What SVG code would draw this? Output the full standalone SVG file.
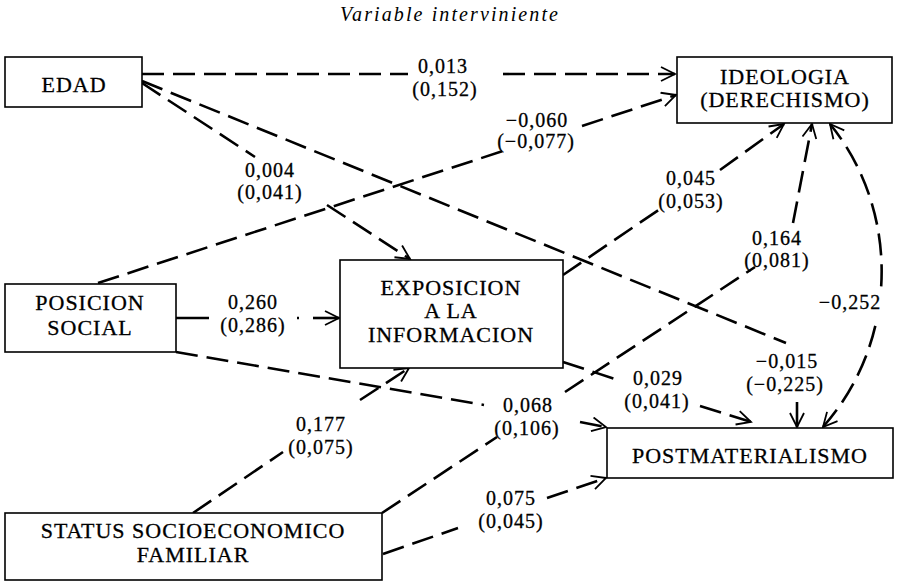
<svg xmlns="http://www.w3.org/2000/svg" width="899" height="581" viewBox="0 0 899 581">
<style>
.box{fill:#fff;stroke:#000;stroke-width:1.6}
.lbl{font-family:"Liberation Serif","Times New Roman",serif;font-size:22px;letter-spacing:1px;text-anchor:middle;fill:#000;stroke:#000;stroke-width:0.3}
.num{font-family:"Liberation Serif","Times New Roman",serif;font-size:20px;letter-spacing:1px;text-anchor:middle;fill:#000;stroke:#000;stroke-width:0.3}
.ttl{font-family:"Liberation Serif","Times New Roman",serif;font-style:italic;font-size:20px;text-anchor:middle;fill:#000}
.c{fill:none;stroke:#000;stroke-width:2.6;stroke-dasharray:22 9}
.s{fill:none;stroke:#000;stroke-width:2.6}
</style>
<defs>
<marker id="ah" markerUnits="userSpaceOnUse" markerWidth="18" markerHeight="18" refX="15" refY="8" orient="auto-start-reverse">
<path d="M1,1 L15,8 L1,15" fill="none" stroke="#000" stroke-width="1.8"/>
</marker>
</defs>
<text class="ttl" x="449" y="21" textLength="218" lengthAdjust="spacing">Variable interviniente</text>
<g id="connectors">
<!-- EDAD -> IDEOLOGIA -->
<path class="c" d="M142,74 L408,74"/>
<path class="c" d="M503,74 L675,74" marker-end="url(#ah)"/>
<!-- EDAD -> EXPOSICION -->
<path class="c" d="M142,83 L255,157"/>
<path class="c" d="M327,205 L410,259" marker-end="url(#ah)"/>
<!-- EDAD -> POSTMATERIALISMO -->
<path class="c" d="M142,81 L786,343"/>
<path class="s" d="M797,402 L797,427" marker-end="url(#ah)"/>
<!-- POSICION -> IDEOLOGIA -->
<path class="c" d="M98,283 L503,151"/>
<path class="c" d="M582,126 L676,95" marker-end="url(#ah)"/>
<!-- POSICION -> EXPOSICION -->
<path class="s" d="M176,318 L209,318"/>
<path class="s" d="M297,318 L299,318"/>
<path class="s" d="M313,318 L339,318" marker-end="url(#ah)"/>
<!-- POSICION -> POSTMATERIALISMO -->
<path class="c" d="M176,352 L484,405"/>
<path class="c" d="M580,422 L606,427" marker-end="url(#ah)"/>
<!-- EXPOSICION -> IDEOLOGIA -->
<path class="c" d="M563,275 L660,209"/>
<path class="c" d="M720,170 L784,124" marker-end="url(#ah)"/>
<!-- EXPOSICION -> POSTMATERIALISMO -->
<path class="c" d="M563,362 L615,379"/>
<path class="c" d="M700,406 L751,422" marker-end="url(#ah)"/>
<!-- STATUS -> EXPOSICION -->
<path class="c" d="M193,513 L283,452"/>
<path class="c" d="M360,400 L409,368" marker-end="url(#ah)"/>
<!-- STATUS -> IDEOLOGIA -->
<path class="c" d="M382,513 L497,437"/>
<path class="c" d="M565,392 L755,267"/>
<path class="c" d="M793,223 L812,124" marker-end="url(#ah)"/>
<!-- STATUS -> POSTMATERIALISMO -->
<path class="c" d="M383,554 L458,528"/>
<path class="c" d="M547,498 L606,478" marker-end="url(#ah)"/>
<!-- IDEOLOGIA <-> POSTMATERIALISMO -->
<path class="c" d="M823,427 C900,340 900,210 830,124" marker-start="url(#ah)" marker-end="url(#ah)"/>
</g>
<g id="edge-labels">
<rect x="818" y="288" width="66" height="34" fill="#fff"/>
<text class="num" x="443" y="73">0,013</text>
<text class="num" x="445" y="96">(0,152)</text>
<text class="num" x="537" y="127">−0,060</text>
<text class="num" x="536" y="148">(−0,077)</text>
<text class="num" x="270" y="177">0,004</text>
<text class="num" x="270" y="199">(0,041)</text>
<text class="num" x="691" y="185">0,045</text>
<text class="num" x="691" y="208">(0,053)</text>
<text class="num" x="777" y="245">0,164</text>
<text class="num" x="777" y="267">(0,081)</text>
<text class="num" x="850" y="309">−0,252</text>
<text class="num" x="787" y="368">−0,015</text>
<text class="num" x="785" y="391">(−0,225)</text>
<text class="num" x="253" y="309">0,260</text>
<text class="num" x="253" y="332">(0,286)</text>
<text class="num" x="658" y="385">0,029</text>
<text class="num" x="657" y="408">(0,041)</text>
<text class="num" x="528" y="412">0,068</text>
<text class="num" x="527" y="435">(0,106)</text>
<text class="num" x="321" y="431">0,177</text>
<text class="num" x="321" y="454">(0,075)</text>
<text class="num" x="511" y="505">0,075</text>
<text class="num" x="511" y="528">(0,045)</text>
</g>
<g id="edad">
<rect class="box" x="5" y="57" width="137" height="50"/>
<text class="lbl" x="74" y="92">EDAD</text>
</g>
<g id="ideologia">
<rect class="box" x="677" y="57" width="215" height="66"/>
<text class="lbl" x="785" y="84">IDEOLOGIA</text>
<text class="lbl" x="785" y="107">(DERECHISMO)</text>
</g>
<g id="posicion">
<rect class="box" x="5" y="284" width="171" height="68"/>
<text class="lbl" x="90" y="310">POSICION</text>
<text class="lbl" x="90" y="335">SOCIAL</text>
</g>
<g id="exposicion">
<rect class="box" x="340" y="260" width="223" height="108"/>
<text class="lbl" x="451" y="295">EXPOSICION</text>
<text class="lbl" x="451" y="318">A LA</text>
<text class="lbl" x="451" y="342">INFORMACION</text>
</g>
<g id="postmaterialismo">
<rect class="box" x="607" y="428" width="286" height="50"/>
<text class="lbl" x="750" y="463">POSTMATERIALISMO</text>
</g>
<g id="status">
<rect class="box" x="5" y="513" width="377" height="67"/>
<text class="lbl" x="193" y="538">STATUS SOCIOECONOMICO</text>
<text class="lbl" x="193" y="562">FAMILIAR</text>
</g>
</svg>
